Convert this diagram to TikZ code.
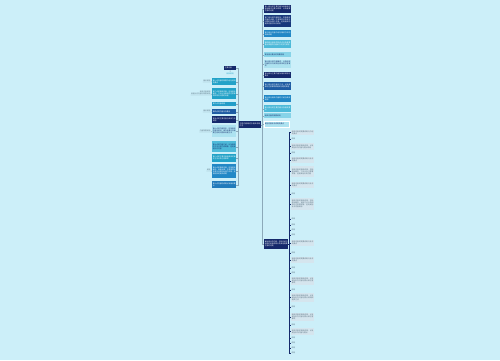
\documentclass[tikz,border=0pt]{standalone}
\usepackage{fontspec}
\newfontfamily\cjk{Noto Sans CJK SC}
\XeTeXlinebreaklocale "zh"
\XeTeXlinebreakskip=0pt plus 1pt
\definecolor{bg}{HTML}{CCEFF9}
\definecolor{cnavy}{HTML}{15296B}
\definecolor{cdblue}{HTML}{1E5CA3}
\definecolor{cblue}{HTML}{2288C6}
\definecolor{cteal}{HTML}{22A2C8}
\definecolor{clteal}{HTML}{4DBAD9}
\definecolor{clight}{HTML}{86D3E8}
\definecolor{cpale}{HTML}{ADE2F0}
\definecolor{cgraybox}{HTML}{D5E5EE}
\definecolor{cline}{HTML}{8CA9B9}
\definecolor{ctxt}{HTML}{566F7E}
\begin{document}
\begin{tikzpicture}[x=1pt,y=-1pt,
  box/.style={anchor=north west, inner sep=0.6pt, align=left, text=white,
    font=\cjk\fontsize{1.75}{2}\selectfont},
  dk/.style={box, text=cnavy},
  gbox/.style={box, fill=cgraybox, text=ctxt, text width=21.8, minimum height=#1},
  lbl/.style={inner sep=0.4pt, text=ctxt, font=\cjk\fontsize{1.75}{2}\selectfont},
  conn/.style={draw=cline, line width=0.4pt},
  trunk/.style={draw=cnavy, line width=0.7pt}]
\fill[bg] (0,0) rectangle (500,360);
\useasboundingbox (0,0) rectangle (500,360);

% central node
\node[box, fill=cnavy, text width=20.8, minimum height=7] (c) at (239,121) {主题内容概述与相关说明汇总};

% right column (top)
\node[box, fill=cnavy, text width=25.8, minimum height=8] (r1) at (264,5) {第一部分的主要内容及其相关的基本概念与要点说明，以及需要注意的问题};
\node[box, fill=cnavy!70!cdblue, text width=25.8, minimum height=12] (r2) at (264,15) {第二部分的内容较多，包括具体的操作步骤、注意事项以及常见问题的处理方法等，还有相关的延伸内容与补充说明};
\node[box, fill=cblue, text width=25.8, minimum height=7] (r3) at (264,30) {第三部分内容介绍与相关方法的具体说明};
\node[box, fill=clteal, text width=25.8, minimum height=8] (r4) at (264,40) {第四部分相关的知识点以及需要重点掌握的内容和方法技巧说明};
\node[dk, fill=clight, text width=25.8, minimum height=5] (r5) at (264,52) {第五部分要点的简要说明};
\node[dk, fill=cpale, text width=25.8, minimum height=8] (r6) at (264,60) {第六部分的内容概述，以及相关内容的补充说明与具体的注意事项};
\node[box, fill=cnavy, text width=25.8, minimum height=6] (r7) at (264,72) {第七部分主要内容及相关说明与要点};
\node[box, fill=cdblue, text width=25.8, minimum height=8] (r8) at (264,82) {第八部分的内容与方法，以及具体的注意事项和相关问题的处理};
\node[box, fill=cblue, text width=25.8, minimum height=7] (r9) at (264,95) {第九部分相关内容的介绍与具体说明};
\node[box, fill=clteal, text width=25.8, minimum height=7] (r10) at (264,105) {第十部分的主要内容以及相关要点};
\node[dk, fill=clight, text width=25.8, minimum height=5] (r11) at (264,113) {相关内容的简要说明};
\node[dk, fill=cpale, draw=white, line width=0.3pt, text width=23.8, minimum height=6] (r12) at (264,121) {其他内容补充说明及要点};
\node[box, fill=cnavy, text width=22.8, minimum height=10] (r13) at (264,239) {最后部分的内容，包括总结与相关的延伸说明以及其他需要注意的问题};

\foreach \n in {r1,r2,r3,r4,r5,r6,r7,r8,r9,r10,r11,r12,r13}
  \draw[conn] (c.east) -- ++(1,0) |- (\n.west);

% left column
\node[box, fill=cnavy, text width=10.8, minimum height=4] (l0) at (224,66) {主要内容};
\node[lbl, text=cteal, anchor=north west] (l0a) at (226,72) {相关说明};
\node[box, fill=cteal, text width=22.8, minimum height=7] (l1) at (212,78) {第一点内容的简要介绍与说明及要点};
\node[box, fill=cteal, text width=22.8, minimum height=11] (l2) at (212,88) {第二点的具体内容，包括基本概念、方法以及相关的注意事项和常见问题的处理};
\node[box, fill=cteal!80!cblue, text width=22.8, minimum height=4] (l3) at (212,102) {第三点内容说明};
\node[box, fill=cdblue, text width=22.8, minimum height=5] (l4) at (212,109) {第四点的内容以及要点};
\node[box, fill=cnavy, text width=22.8, minimum height=7] (l5) at (212,116) {第五点的主要内容与具体方法说明};
\node[dk, fill=cpale, text width=22.8, minimum height=12] (l6) at (212,125) {第六点的内容较多，包括相关的基本知识、操作步骤以及需要注意的问题和处理方法};
\node[dk, fill=clteal, text width=22.8, minimum height=11] (l7) at (212,141) {第七点的内容介绍，以及相关的方法与技巧说明等，还有其他补充内容};
\node[box, fill=cteal, text width=22.8, minimum height=8] (l8) at (212,154) {第八点的主要内容和具体的操作方法以及注意事项};
\node[box, fill=cblue, text width=22.8, minimum height=14] (l9) at (212,164) {第九点的具体内容，包括基本概念、具体步骤、注意事项以及常见问题的处理方法等，还有相关的延伸说明};
\node[box, fill=cblue!70!cdblue, text width=22.8, minimum height=7] (l10) at (212,181) {第十点内容的说明以及相关要点};

\foreach \n in {l0,l1,l2,l3,l4,l5,l6,l7,l8,l9,l10}
  \draw[conn] (c.west) -- ++(-1,0) |- (\n.east);
\draw[conn] (l0.south) -- (l0a.north);

% left side labels
\node[lbl, anchor=south east] (a1) at (211,82) {相关说明};
\node[lbl, anchor=south east, align=right] (a2) at (211,95) {相关内容说明\\其他补充内容的简要说明};
\node[lbl, anchor=south east] (a4) at (211,112) {相关说明};
\node[lbl, anchor=south east] (a6) at (211,132) {内容简要说明};
\node[lbl, anchor=south east] (a9) at (211,171) {说明};
\foreach \a/\b in {a1/l1,a2/l2,a4/l4,a6/l6,a9/l9}
  \draw[conn] (\a.south west) -- (\a.south east) -- (\b.west);

% right children of r13
\node[gbox=5] (k1) at (291,130) {相关内容的简要说明与介绍及要点};
\node[lbl, anchor=west] (k2) at (291,139) {说明};
\node[gbox=7] (k3) at (291,143) {相关内容的具体说明，以及其他补充内容与要点说明};
\node[lbl, anchor=west] (k4) at (291,153) {说明};
\node[gbox=6] (k5) at (291,157) {相关内容的简要说明与补充及要点};
\node[gbox=11] (k6) at (291,166) {相关内容的具体说明，包括基本概念、方法以及注意事项等，还有其他补充内容};
\node[gbox=6] (k7) at (291,182) {相关内容的简要说明与补充及要点};
\node[lbl, anchor=west] (k8) at (291,194) {说明};
\node[gbox=12] (k9) at (291,198) {相关内容的具体说明，包括基本概念、具体方法以及相关的注意事项等，还有其他补充内容说明};
\node[lbl, anchor=west] (k10) at (291,219) {说明};
\node[lbl, anchor=west] (k11) at (291,225) {说明};
\node[lbl, anchor=west] (k12) at (291,230) {说明};
\node[lbl, anchor=west] (k13) at (291,235) {说明};
\node[gbox=6] (k14) at (291,240) {相关内容的简要说明与补充及要点};
\node[lbl, anchor=west] (k15) at (291,253) {说明};
\node[gbox=6] (k16) at (291,257) {相关内容的简要说明与补充及要点};
\node[lbl, anchor=west] (k17) at (291,268) {说明};
\node[lbl, anchor=west] (k18) at (291,273) {说明};
\node[gbox=8] (k19) at (291,277) {相关内容的具体说明，以及其他补充内容与要点和注意事项};
\node[lbl, anchor=west] (k20) at (291,290) {说明};
\node[gbox=9] (k21) at (291,293) {相关内容的具体说明，以及其他补充内容与要点说明和相关方法};
\node[lbl, anchor=west] (k22) at (291,307) {说明};
\node[gbox=8] (k23) at (291,313) {相关内容的具体说明，以及其他补充内容与要点和注意事项};
\node[lbl, anchor=west] (k24) at (291,325) {说明};
\node[gbox=7] (k25) at (291,328) {相关内容的具体说明，以及其他补充内容与要点};
\node[lbl, anchor=west] (k26) at (291,338) {说明};
\node[lbl, anchor=west] (k27) at (291,343) {说明};
\node[lbl, anchor=west] (k28) at (291,348) {说明};
\node[lbl, anchor=west] (k29) at (291,353) {说明};

\foreach \n in {k1,k2,k3,k4,k5,k6,k7,k8,k9,k10,k11,k12,k13,k14,k15,k16,k17,k18,k19,k20,k21,k22,k23,k24,k25,k26,k27,k28,k29}
  \draw[trunk] (r13.east) -- ++(1,0) |- (\n.west);
\end{tikzpicture}
\end{document}
